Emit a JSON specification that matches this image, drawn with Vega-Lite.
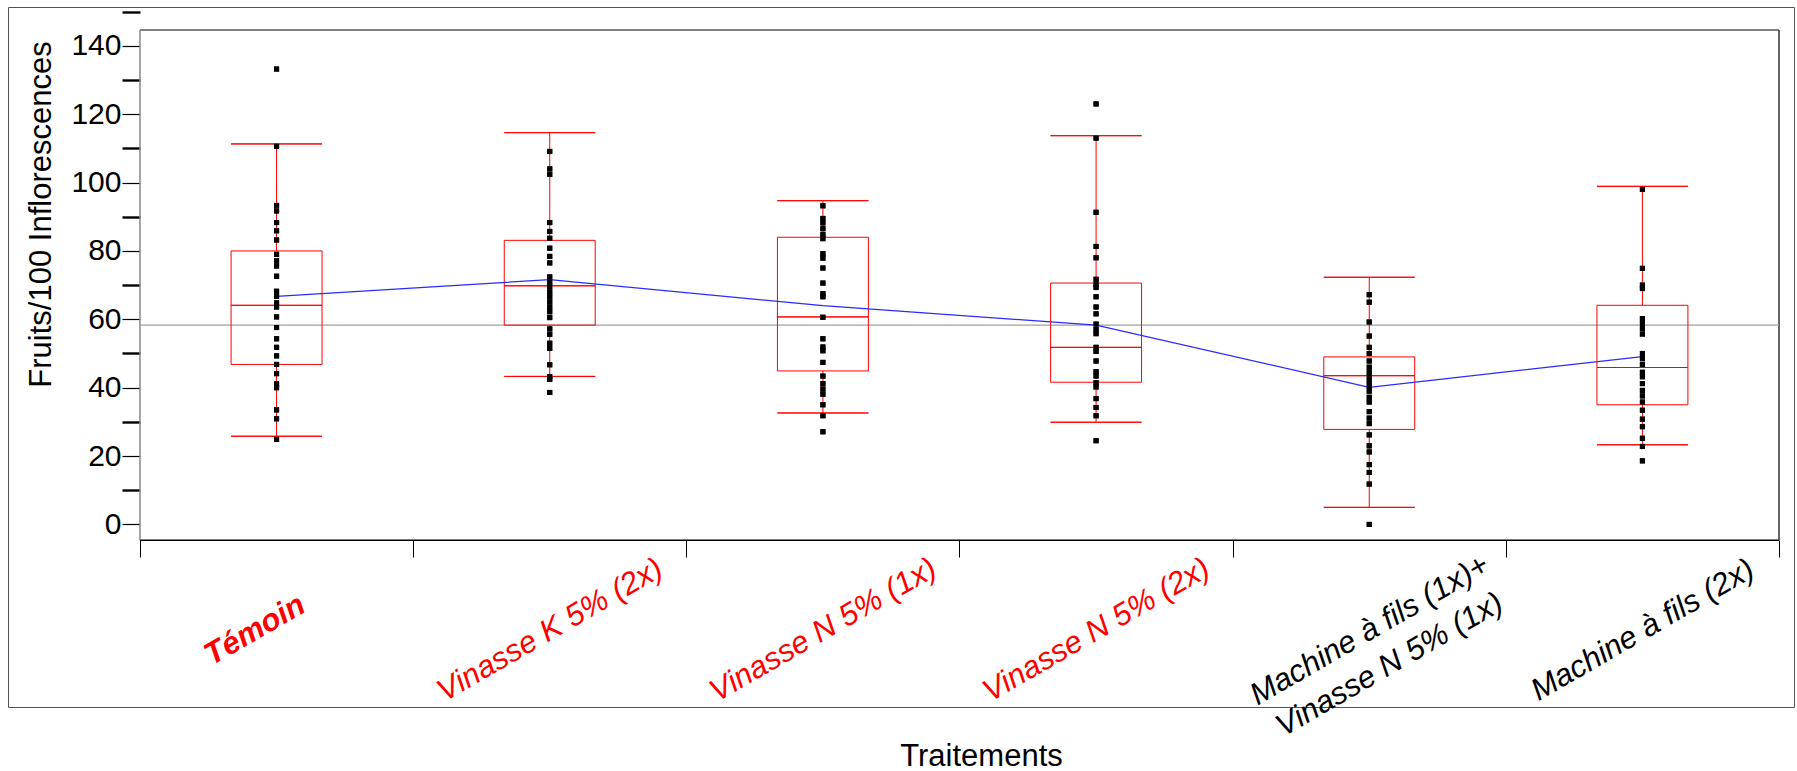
{
  "$schema": "https://vega.github.io/schema/vega-lite/v6.json",
  "width": 1786,
  "height": 700,
  "autosize": {"type": "none"},
  "padding": {"left": 8, "top": 7, "right": 3, "bottom": 64},
  "background": "white",
  "config": {
    "font": "Liberation Sans",
    "view": {"stroke": "#555555", "strokeWidth": 1},
    "axis": {"labelFont": "Liberation Sans", "titleFont": "Liberation Sans"}
  },
  "datasets": {
    "one": [{}],
    "stats": [
      {"i": 1, "t": "Témoin", "lo": 25.8, "q1": 46.8, "med": 64.1, "q3": 80.0, "hi": 111.3, "mean": 66.7},
      {"i": 2, "t": "Vinasse K 5% (2x)", "lo": 43.3, "q1": 58.3, "med": 69.8, "q3": 83.1, "hi": 114.6, "mean": 71.6},
      {"i": 3, "t": "Vinasse N 5% (1x)", "lo": 32.6, "q1": 44.9, "med": 60.7, "q3": 84.0, "hi": 94.7, "mean": 64.0},
      {"i": 4, "t": "Vinasse N 5% (2x)", "lo": 29.9, "q1": 41.6, "med": 51.8, "q3": 70.6, "hi": 113.7, "mean": 58.3},
      {"i": 5, "t": "Machine à fils (1x)+ Vinasse N 5% (1x)", "lo": 5.0, "q1": 27.8, "med": 43.5, "q3": 49.0, "hi": 72.3, "mean": 40.1},
      {"i": 6, "t": "Machine à fils (2x)", "lo": 23.3, "q1": 35.0, "med": 45.9, "q3": 64.1, "hi": 98.9, "mean": 49.1}
    ],
    "pts": [
      {"t": "Témoin", "v": 133.2}, {"t": "Témoin", "v": 110.6}, {"t": "Témoin", "v": 93.3}, {"t": "Témoin", "v": 91.7},
      {"t": "Témoin", "v": 88.3}, {"t": "Témoin", "v": 85.9}, {"t": "Témoin", "v": 83.2}, {"t": "Témoin", "v": 79.0},
      {"t": "Témoin", "v": 77.1}, {"t": "Témoin", "v": 75.6}, {"t": "Témoin", "v": 72.6}, {"t": "Témoin", "v": 68.2},
      {"t": "Témoin", "v": 66.7}, {"t": "Témoin", "v": 64.8}, {"t": "Témoin", "v": 63.6}, {"t": "Témoin", "v": 60.7},
      {"t": "Témoin", "v": 57.6}, {"t": "Témoin", "v": 54.3}, {"t": "Témoin", "v": 51.8}, {"t": "Témoin", "v": 49.3},
      {"t": "Témoin", "v": 46.8}, {"t": "Témoin", "v": 44.1}, {"t": "Témoin", "v": 41.1}, {"t": "Témoin", "v": 40.0},
      {"t": "Témoin", "v": 33.5}, {"t": "Témoin", "v": 30.9}, {"t": "Témoin", "v": 24.9},
      {"t": "Vinasse K 5% (2x)", "v": 109.1}, {"t": "Vinasse K 5% (2x)", "v": 104.0}, {"t": "Vinasse K 5% (2x)", "v": 102.4},
      {"t": "Vinasse K 5% (2x)", "v": 88.3}, {"t": "Vinasse K 5% (2x)", "v": 85.7}, {"t": "Vinasse K 5% (2x)", "v": 83.7},
      {"t": "Vinasse K 5% (2x)", "v": 80.8}, {"t": "Vinasse K 5% (2x)", "v": 78.4}, {"t": "Vinasse K 5% (2x)", "v": 76.5},
      {"t": "Vinasse K 5% (2x)", "v": 72.4}, {"t": "Vinasse K 5% (2x)", "v": 70.9}, {"t": "Vinasse K 5% (2x)", "v": 69.5},
      {"t": "Vinasse K 5% (2x)", "v": 68.0}, {"t": "Vinasse K 5% (2x)", "v": 66.6}, {"t": "Vinasse K 5% (2x)", "v": 65.1},
      {"t": "Vinasse K 5% (2x)", "v": 63.6}, {"t": "Vinasse K 5% (2x)", "v": 62.2}, {"t": "Vinasse K 5% (2x)", "v": 60.5},
      {"t": "Vinasse K 5% (2x)", "v": 57.2}, {"t": "Vinasse K 5% (2x)", "v": 55.6}, {"t": "Vinasse K 5% (2x)", "v": 53.0},
      {"t": "Vinasse K 5% (2x)", "v": 51.5}, {"t": "Vinasse K 5% (2x)", "v": 46.7}, {"t": "Vinasse K 5% (2x)", "v": 43.2},
      {"t": "Vinasse K 5% (2x)", "v": 42.4}, {"t": "Vinasse K 5% (2x)", "v": 38.6},
      {"t": "Vinasse N 5% (1x)", "v": 93.2}, {"t": "Vinasse N 5% (1x)", "v": 89.5}, {"t": "Vinasse N 5% (1x)", "v": 88.2},
      {"t": "Vinasse N 5% (1x)", "v": 86.5}, {"t": "Vinasse N 5% (1x)", "v": 84.8}, {"t": "Vinasse N 5% (1x)", "v": 83.6},
      {"t": "Vinasse N 5% (1x)", "v": 79.2}, {"t": "Vinasse N 5% (1x)", "v": 77.9}, {"t": "Vinasse N 5% (1x)", "v": 75.0},
      {"t": "Vinasse N 5% (1x)", "v": 70.6}, {"t": "Vinasse N 5% (1x)", "v": 67.5}, {"t": "Vinasse N 5% (1x)", "v": 66.6},
      {"t": "Vinasse N 5% (1x)", "v": 60.6}, {"t": "Vinasse N 5% (1x)", "v": 54.3}, {"t": "Vinasse N 5% (1x)", "v": 51.9},
      {"t": "Vinasse N 5% (1x)", "v": 50.8}, {"t": "Vinasse N 5% (1x)", "v": 47.4}, {"t": "Vinasse N 5% (1x)", "v": 43.4},
      {"t": "Vinasse N 5% (1x)", "v": 41.2}, {"t": "Vinasse N 5% (1x)", "v": 39.6}, {"t": "Vinasse N 5% (1x)", "v": 38.1},
      {"t": "Vinasse N 5% (1x)", "v": 35.0}, {"t": "Vinasse N 5% (1x)", "v": 31.8}, {"t": "Vinasse N 5% (1x)", "v": 27.1},
      {"t": "Vinasse N 5% (2x)", "v": 123.0}, {"t": "Vinasse N 5% (2x)", "v": 113.0}, {"t": "Vinasse N 5% (2x)", "v": 91.3},
      {"t": "Vinasse N 5% (2x)", "v": 81.3}, {"t": "Vinasse N 5% (2x)", "v": 78.0}, {"t": "Vinasse N 5% (2x)", "v": 71.7},
      {"t": "Vinasse N 5% (2x)", "v": 70.3}, {"t": "Vinasse N 5% (2x)", "v": 69.3}, {"t": "Vinasse N 5% (2x)", "v": 66.6},
      {"t": "Vinasse N 5% (2x)", "v": 63.6}, {"t": "Vinasse N 5% (2x)", "v": 61.6}, {"t": "Vinasse N 5% (2x)", "v": 58.6},
      {"t": "Vinasse N 5% (2x)", "v": 57.0}, {"t": "Vinasse N 5% (2x)", "v": 55.8}, {"t": "Vinasse N 5% (2x)", "v": 51.8},
      {"t": "Vinasse N 5% (2x)", "v": 50.6}, {"t": "Vinasse N 5% (2x)", "v": 47.8}, {"t": "Vinasse N 5% (2x)", "v": 44.7},
      {"t": "Vinasse N 5% (2x)", "v": 43.4}, {"t": "Vinasse N 5% (2x)", "v": 41.5}, {"t": "Vinasse N 5% (2x)", "v": 40.2},
      {"t": "Vinasse N 5% (2x)", "v": 36.8}, {"t": "Vinasse N 5% (2x)", "v": 34.2}, {"t": "Vinasse N 5% (2x)", "v": 31.8},
      {"t": "Vinasse N 5% (2x)", "v": 24.5},
      {"t": "Machine à fils (1x)+ Vinasse N 5% (1x)", "v": 67.2}, {"t": "Machine à fils (1x)+ Vinasse N 5% (1x)", "v": 65.0},
      {"t": "Machine à fils (1x)+ Vinasse N 5% (1x)", "v": 59.2}, {"t": "Machine à fils (1x)+ Vinasse N 5% (1x)", "v": 55.1},
      {"t": "Machine à fils (1x)+ Vinasse N 5% (1x)", "v": 51.8}, {"t": "Machine à fils (1x)+ Vinasse N 5% (1x)", "v": 50.0},
      {"t": "Machine à fils (1x)+ Vinasse N 5% (1x)", "v": 47.8}, {"t": "Machine à fils (1x)+ Vinasse N 5% (1x)", "v": 46.0},
      {"t": "Machine à fils (1x)+ Vinasse N 5% (1x)", "v": 44.5}, {"t": "Machine à fils (1x)+ Vinasse N 5% (1x)", "v": 43.2},
      {"t": "Machine à fils (1x)+ Vinasse N 5% (1x)", "v": 41.8}, {"t": "Machine à fils (1x)+ Vinasse N 5% (1x)", "v": 40.4},
      {"t": "Machine à fils (1x)+ Vinasse N 5% (1x)", "v": 39.0}, {"t": "Machine à fils (1x)+ Vinasse N 5% (1x)", "v": 37.2},
      {"t": "Machine à fils (1x)+ Vinasse N 5% (1x)", "v": 35.8}, {"t": "Machine à fils (1x)+ Vinasse N 5% (1x)", "v": 33.0},
      {"t": "Machine à fils (1x)+ Vinasse N 5% (1x)", "v": 31.1}, {"t": "Machine à fils (1x)+ Vinasse N 5% (1x)", "v": 29.5},
      {"t": "Machine à fils (1x)+ Vinasse N 5% (1x)", "v": 26.2}, {"t": "Machine à fils (1x)+ Vinasse N 5% (1x)", "v": 23.0},
      {"t": "Machine à fils (1x)+ Vinasse N 5% (1x)", "v": 21.2}, {"t": "Machine à fils (1x)+ Vinasse N 5% (1x)", "v": 17.5},
      {"t": "Machine à fils (1x)+ Vinasse N 5% (1x)", "v": 15.2}, {"t": "Machine à fils (1x)+ Vinasse N 5% (1x)", "v": 11.8},
      {"t": "Machine à fils (1x)+ Vinasse N 5% (1x)", "v": 0.0},
      {"t": "Machine à fils (2x)", "v": 98.0}, {"t": "Machine à fils (2x)", "v": 74.9}, {"t": "Machine à fils (2x)", "v": 70.0},
      {"t": "Machine à fils (2x)", "v": 69.0}, {"t": "Machine à fils (2x)", "v": 60.2}, {"t": "Machine à fils (2x)", "v": 58.8},
      {"t": "Machine à fils (2x)", "v": 57.3}, {"t": "Machine à fils (2x)", "v": 55.7}, {"t": "Machine à fils (2x)", "v": 50.0},
      {"t": "Machine à fils (2x)", "v": 48.5}, {"t": "Machine à fils (2x)", "v": 46.8}, {"t": "Machine à fils (2x)", "v": 44.5},
      {"t": "Machine à fils (2x)", "v": 43.2}, {"t": "Machine à fils (2x)", "v": 41.2}, {"t": "Machine à fils (2x)", "v": 39.2},
      {"t": "Machine à fils (2x)", "v": 37.6}, {"t": "Machine à fils (2x)", "v": 35.8}, {"t": "Machine à fils (2x)", "v": 33.4},
      {"t": "Machine à fils (2x)", "v": 30.8}, {"t": "Machine à fils (2x)", "v": 28.6}, {"t": "Machine à fils (2x)", "v": 25.2},
      {"t": "Machine à fils (2x)", "v": 22.8}, {"t": "Machine à fils (2x)", "v": 18.6}
    ]
  },
  "layer": [
    {
      "data": {"name": "pts"},
      "mark": {"type": "point", "shape": "square", "filled": true, "color": "black", "opacity": 1, "size": 26},
      "encoding": {
        "x": {
          "field": "t", "type": "nominal",
          "scale": {
            "type": "band",
            "domain": ["Témoin", "Vinasse K 5% (2x)", "Vinasse N 5% (1x)", "Vinasse N 5% (2x)", "Machine à fils (1x)+ Vinasse N 5% (1x)", "Machine à fils (2x)"],
            "paddingInner": 0, "paddingOuter": 0.269, "align": 0.898
          },
          "axis": {
            "title": "Traitements",
            "titleFontSize": 31, "titleFontWeight": "normal", "titleColor": "black",
            "titleX": 973, "titleY": 216, "titleBaseline": "middle", "titleAlign": "center",
            "offset": -167,
            "domain": false, "grid": false,
            "tickBand": "extent", "tickSize": 17, "tickColor": "black", "tickWidth": 1,
            "labelAngle": -30, "labelAlign": "center", "labelBaseline": "middle",
            "labelPadding": 73, "labelFontSize": 31, "labelFontStyle": "italic",
            "labelLimit": 500, "labelOverlap": false, "labelBound": false, "labelFlush": false,
            "labelLineHeight": 40,
            "labelOffset": {"condition": {"test": "datum.value == 'Témoin'", "value": -22}, "value": 0},
            "labelExpr": "datum.value == 'Machine à fils (1x)+ Vinasse N 5% (1x)' ? ['Machine à fils (1x)+', 'Vinasse N 5% (1x)'] : datum.label",
            "labelColor": {"condition": {"test": "indexof(['Témoin', 'Vinasse K 5% (2x)', 'Vinasse N 5% (1x)', 'Vinasse N 5% (2x)'], datum.value) >= 0", "value": "#ff0000"}, "value": "black"},
            "labelFontWeight": {"condition": {"test": "datum.value == 'Témoin'", "value": "bold"}, "value": "normal"}
          }
        },
        "y": {
          "field": "v", "type": "quantitative",
          "scale": {"domain": [-53.4, 151.35], "nice": false, "zero": false},
          "axis": {
            "title": "Fruits/100 Inflorescences",
            "titleFontSize": 31, "titleFontWeight": "normal", "titleColor": "black",
            "titleAngle": -90, "titleX": -98.5, "titleY": 207, "titleAlign": "center", "titleBaseline": "middle",
            "offset": -132,
            "domain": false, "grid": false,
            "values": [0, 10, 20, 30, 40, 50, 60, 70, 80, 90, 100, 110, 120, 130, 140, 150],
            "labelExpr": "datum.value % 20 == 0 && datum.value <= 140 ? datum.label : ''",
            "labelFontSize": 30, "labelColor": "black", "labelPadding": 1,
            "tickSize": 18, "tickColor": "black",
            "tickWidth": {"condition": {"test": "datum.value % 20 == 0", "value": 1.2}, "value": 2.4}
          }
        }
      }
    },
    {
      "data": {"name": "one"},
      "mark": {"type": "rule", "color": "#555555", "strokeWidth": 1.5},
      "encoding": {
        "x": {"datum": "Témoin", "type": "nominal", "bandPosition": 0},
        "x2": {"datum": "Machine à fils (2x)", "bandPosition": 1},
        "y": {"datum": 144.6, "type": "quantitative"}
      }
    },
    {
      "data": {"name": "one"},
      "mark": {"type": "rule", "color": "black", "strokeWidth": 1.5},
      "encoding": {
        "x": {"datum": "Témoin", "type": "nominal", "bandPosition": 0},
        "x2": {"datum": "Machine à fils (2x)", "bandPosition": 1},
        "y": {"datum": -4.6, "type": "quantitative"}
      }
    },
    {
      "data": {"name": "one"},
      "mark": {"type": "rule", "color": "#888888", "strokeWidth": 1.5},
      "encoding": {
        "x": {"datum": "Témoin", "type": "nominal", "bandPosition": 0},
        "y": {"datum": -4.6, "type": "quantitative"},
        "y2": {"datum": 144.6}
      }
    },
    {
      "data": {"name": "one"},
      "mark": {"type": "rule", "color": "#333333", "strokeWidth": 1.5},
      "encoding": {
        "x": {"datum": "Machine à fils (2x)", "type": "nominal", "bandPosition": 1},
        "y": {"datum": -4.6, "type": "quantitative"},
        "y2": {"datum": 144.6}
      }
    },
    {
      "data": {"name": "one"},
      "mark": {"type": "rule", "color": "#a0a0a0", "strokeWidth": 1.2},
      "encoding": {
        "x": {"datum": "Témoin", "type": "nominal", "bandPosition": 0},
        "x2": {"datum": "Machine à fils (2x)", "bandPosition": 1},
        "y": {"datum": 58.3, "type": "quantitative"}
      }
    },
    {
      "data": {"name": "stats"},
      "mark": {"type": "rule", "color": "#ff0000", "strokeWidth": 1},
      "encoding": {
        "x": {"field": "t", "type": "nominal"},
        "y": {"field": "lo", "type": "quantitative"},
        "y2": {"field": "q1"}
      }
    },
    {
      "data": {"name": "stats"},
      "mark": {"type": "rule", "color": "#ff0000", "strokeWidth": 1},
      "encoding": {
        "x": {"field": "t", "type": "nominal"},
        "y": {"field": "q3", "type": "quantitative"},
        "y2": {"field": "hi"}
      }
    },
    {
      "data": {"name": "stats"},
      "mark": {"type": "bar", "width": {"band": 0.333}, "fillOpacity": 0, "stroke": "#ff0000", "strokeWidth": 1},
      "encoding": {
        "x": {"field": "t", "type": "nominal"},
        "y": {"field": "q1", "type": "quantitative"},
        "y2": {"field": "q3"}
      }
    },
    {
      "data": {"name": "stats"},
      "mark": {"type": "bar", "width": {"band": 0.333}, "fillOpacity": 0, "stroke": "#ff0000", "strokeWidth": 1},
      "encoding": {
        "x": {"field": "t", "type": "nominal"},
        "y": {"field": "med", "type": "quantitative"},
        "y2": {"field": "med"}
      }
    },
    {
      "data": {"name": "stats"},
      "mark": {"type": "bar", "width": {"band": 0.333}, "fillOpacity": 0, "stroke": "#ff0000", "strokeWidth": 1},
      "encoding": {
        "x": {"field": "t", "type": "nominal"},
        "y": {"field": "lo", "type": "quantitative"},
        "y2": {"field": "lo"}
      }
    },
    {
      "data": {"name": "stats"},
      "mark": {"type": "bar", "width": {"band": 0.333}, "fillOpacity": 0, "stroke": "#ff0000", "strokeWidth": 1},
      "encoding": {
        "x": {"field": "t", "type": "nominal"},
        "y": {"field": "hi", "type": "quantitative"},
        "y2": {"field": "hi"}
      }
    },
    {
      "data": {"name": "stats"},
      "mark": {"type": "line", "color": "#2a2aff", "strokeWidth": 1.2},
      "encoding": {
        "x": {"field": "t", "type": "nominal"},
        "y": {"field": "mean", "type": "quantitative"},
        "order": {"field": "i", "type": "quantitative"}
      }
    },
    {
      "data": {"name": "pts"},
      "mark": {"type": "point", "shape": "square", "filled": true, "color": "black", "opacity": 1, "size": 26},
      "encoding": {
        "x": {"field": "t", "type": "nominal"},
        "y": {"field": "v", "type": "quantitative"}
      }
    }
  ]
}
